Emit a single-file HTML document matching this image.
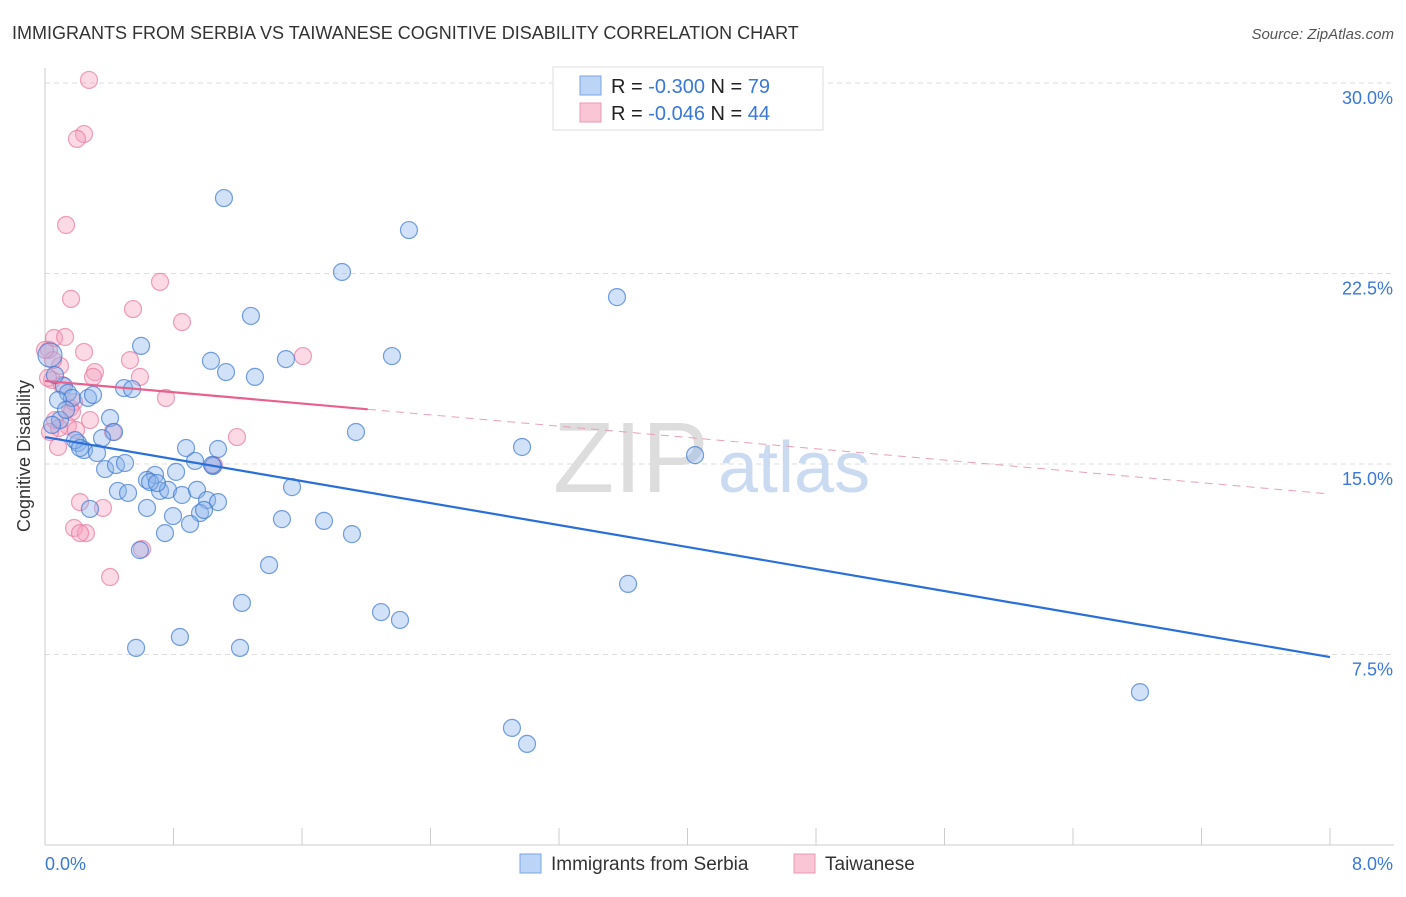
<!DOCTYPE html>
<html><head><meta charset="utf-8"><style>
body{margin:0;background:#fff;font-family:"Liberation Sans",sans-serif;}
svg text{font-family:"Liberation Sans",sans-serif;}
</style></head><body>
<svg id="chart" width="1406" height="892">
<text x="12" y="39" font-size="18" fill="#333">IMMIGRANTS FROM SERBIA VS TAIWANESE COGNITIVE DISABILITY CORRELATION CHART</text>
<text x="1394" y="39" font-size="15" fill="#555" font-style="italic" text-anchor="end">Source: ZipAtlas.com</text>
<g id="grid"></g>
<g><text x="553" y="492" font-size="100" fill="#ddd" font-family="Liberation Serif">ZIP</text><text x="718" y="492" font-size="72" fill="#c9daf1">atlas</text></g>
<line x1="45" y1="68" x2="45" y2="845" stroke="#ccc"/>
<line x1="45" y1="845" x2="1394" y2="845" stroke="#ccc"/>
<g id="xticks"></g>
<g id="pts"></g>
<g id="trends"></g>
<text x="30" y="456" font-size="18" fill="#333" text-anchor="middle" transform="rotate(-90 30 456)">Cognitive Disability</text>
<text x="45" y="870" font-size="18" fill="#3a78d8">0.0%</text>
<text x="1393" y="870" font-size="18" fill="#3a78d8" text-anchor="end">8.0%</text>
<g>
<rect x="553" y="67" width="270" height="63" fill="#fff" stroke="#ddd"/>
<rect x="580" y="76" width="21" height="19" fill="#bcd4f5" stroke="#7aa6e6"/>
<rect x="580" y="103" width="21" height="19" fill="#f9c6d6" stroke="#eb98b2"/>
<text x="611" y="93" font-size="20" fill="#222">R = <tspan fill="#3a78d8">-0.300</tspan>   N = <tspan fill="#3a78d8">79</tspan></text>
<text x="611" y="120" font-size="20" fill="#222">R = <tspan fill="#3a78d8">-0.046</tspan>   N = <tspan fill="#3a78d8">44</tspan></text>
</g>
<g>
<rect x="520" y="854" width="21" height="19" fill="#bcd4f5" stroke="#7aa6e6"/>
<text x="551" y="870" font-size="19" fill="#333">Immigrants from Serbia</text>
<rect x="794" y="854" width="21" height="19" fill="#f9c6d6" stroke="#eb98b2"/>
<text x="825" y="870" font-size="19" fill="#333">Taiwanese</text>
</g>
</svg>
<script>
const yTicks=[7.5,15,22.5,30];
const yTickLabels=["7.5%","15.0%","22.5%","30.0%"];
const xTicks=[0,0.8,1.6,2.4,3.2,4,4.8,5.6,6.4,7.2,8];
const serbiaPx=[[224,198],[409,230],[342,272],[617,297],[251,316],[141,346],[211,361],[226,372],[255,377],[286,359],[392,356],[124,388],[132,389],[64,386],[68,393],[72,398],[88,398],[93,395],[58,400],[110,418],[114,432],[102,438],[356,432],[522,447],[695,455],[186,448],[218,449],[195,461],[213,466],[78,443],[84,450],[97,453],[105,469],[116,465],[125,463],[155,475],[147,480],[176,472],[118,491],[128,493],[160,491],[168,490],[182,495],[197,490],[207,500],[218,502],[292,487],[90,509],[147,508],[173,516],[200,513],[204,510],[190,524],[165,533],[282,519],[324,521],[352,534],[140,550],[269,565],[628,584],[242,603],[381,612],[400,620],[180,637],[136,648],[240,648],[1140,692],[512,728],[527,744],[50,355],[55,375],[60,420],[52,425],[66,410],[75,440],[80,448],[150,482],[157,483],[212,465]];
const taiwanPx=[[89,80],[84,134],[77,139],[66,225],[160,282],[71,299],[133,309],[182,322],[54,338],[65,337],[84,352],[303,356],[60,366],[95,372],[93,377],[140,377],[52,380],[166,398],[70,408],[74,402],[55,420],[68,426],[76,430],[113,432],[237,437],[58,447],[214,465],[80,502],[103,508],[74,528],[86,533],[80,533],[142,549],[110,577],[49,350],[53,360],[48,378],[62,385],[59,428],[50,432],[45,350],[72,412],[90,420],[130,360]];
// data values (x in %, y in %)
const serbiaX=serbiaPx.map(p=>+((p[0]-45)/1285*8).toFixed(3));
const serbiaY=serbiaPx.map(p=>+((845-p[1])/25.4).toFixed(2));
const taiwanX=taiwanPx.map(p=>+((p[0]-45)/1285*8).toFixed(3));
const taiwanY=taiwanPx.map(p=>+((845-p[1])/25.4).toFixed(2));
const serbiaTrend=[16.06,7.40];
const taiwanTrend=[18.27,13.82];
const taiwanSolidEnd=2.01;
const NS="http://www.w3.org/2000/svg";
const X=v=>45+v/8*1285, Y=v=>845-v*25.4;
function mk(t,a,p){const e=document.createElementNS(NS,t);for(const k in a)e.setAttribute(k,a[k]);p.appendChild(e);return e;}
const grid=document.getElementById('grid');
yTicks.forEach((t,i)=>{
 const l=mk('line',{x1:45,x2:1394,y1:Y(t),y2:Y(t),stroke:'#ddd','stroke-dasharray':'5,4'},grid);
 
 
 const tx=mk('text',{x:1393,y:Y(t)+21,'font-size':18,fill:'#3a78d8','text-anchor':'end'},grid);
 tx.textContent=yTickLabels[i];
 
 
});
const xt=document.getElementById('xticks');
xTicks.forEach(t=>{
 const l=mk('line',{x1:X(t),x2:X(t),y1:828,y2:845,stroke:'#ccc'},xt);
 
 
});
const pts=document.getElementById('pts');
taiwanX.forEach((x,i)=>{
 const c=mk('circle',{cx:X(x),cy:Y(taiwanY[i]),r:8.5,fill:'rgba(244,160,190,0.4)',stroke:'rgba(232,120,160,0.7)','stroke-width':1.2},pts);
 
 
});
serbiaX.forEach((x,i)=>{
 const c=mk('circle',{cx:X(x),cy:Y(serbiaY[i]),r:i==69?12:8.5,fill:'rgba(140,180,235,0.4)',stroke:'rgba(60,120,210,0.7)','stroke-width':1.2},pts);
 
 
});
const tr=document.getElementById('trends');
let l=mk('line',{x1:X(0),y1:Y(serbiaTrend[0]),x2:X(8),y2:Y(serbiaTrend[1]),stroke:'#2a6fd8','stroke-width':2.2},tr);


const ym=taiwanTrend[0]+(taiwanTrend[1]-taiwanTrend[0])*taiwanSolidEnd/8;
l=mk('line',{x1:X(0),y1:Y(taiwanTrend[0]),x2:X(taiwanSolidEnd),y2:Y(ym),stroke:'#e8608e','stroke-width':2.2},tr);


l=mk('line',{x1:X(taiwanSolidEnd),y1:Y(ym),x2:X(8),y2:Y(taiwanTrend[1]),stroke:'#e8a0b8','stroke-width':1,'stroke-dasharray':'8,6'},tr);


</script>
</body></html>
